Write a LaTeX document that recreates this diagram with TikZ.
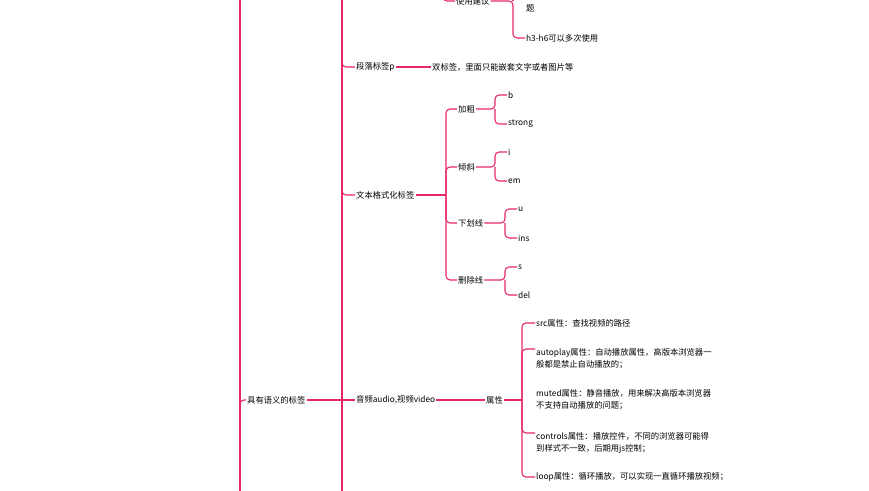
\documentclass[tikz,border=0pt]{standalone}
\usepackage{fontspec}
\newfontfamily\cjk{Noto Sans CJK SC}
\definecolor{mmred}{HTML}{E8276A}
\begin{document}
\begin{tikzpicture}[
        x=1pt, y=-1pt,
        lbl/.style = {anchor=west, inner sep=1pt, font=\cjk\fontsize{8.3}{12}\selectfont},
        note/.style = {lbl, align=left, text width=#1},
        link/.style = {draw=mmred, line width=1.1pt, rounded corners=4pt}
    ]
        \useasboundingbox (0,0) rectangle (869,490);
        \clip (0,0) rectangle (869,490);

        % trunk lines
        \draw[mmred, line width=2.6pt] (240,-10) -- (240,500);
        \draw[mmred, line width=1.4pt] (342,-10) -- (342,500);

        \node[lbl] (root) at (246,400) {具有语义的标签};
        \draw[link] (240,410) |- (root.west);
        \draw[link] (root.east) -- (342,400);

        % heading part (cut at the top)
        \node[lbl] (advice) at (455,1) {使用建议};
        \draw[link] (443,-20) |- (advice.west);
        \node[note=250pt] (once) at (525,2) {h1标签一个页面只能使用一次，用来解决SEO问\\题};
        \node[lbl] (multi) at (525,38) {h3-h6可以多次使用};
        \draw[link] (advice.east) -- (513,1) |- (multi.west);
        \draw[link] (513,1) -- (513,-10);

        % paragraph
        \node[lbl] (para) at (355,67) {段落标签p};
        \draw[link] (342,58) |- (para.west);
        \node[lbl] (paranote) at (431,67) {双标签，里面只能嵌套文字或者图片等};
        \draw[link] (para.east) -- (paranote.west);

        % text format
        \node[lbl] (fmt) at (355,195) {文本格式化标签};
        \draw[link] (342,186) |- (fmt.west);
        \node[lbl] (bold) at (457,109) {加粗};
        \node[lbl] (ital) at (457,167) {倾斜};
        \node[lbl] (under) at (457,223) {下划线};
        \node[lbl] (strike) at (457,280) {删除线};
        \draw[link] (fmt.east) -- (446,195);
        \foreach \n in {bold,ital,under,strike}
            \draw[link] (446,195) |- (\n.west);

        \node[lbl] (b) at (507,95) {b};
        \node[lbl] (strong) at (507,124) {strong};
        \node[lbl] (i) at (507,152) {i};
        \node[lbl] (em) at (507,181) {em};
        \node[lbl] (u) at (517,209) {u};
        \node[lbl] (ins) at (517,238) {ins};
        \node[lbl] (s) at (517,267) {s};
        \node[lbl] (del) at (517,295) {del};
        \draw[link] (bold.east) -- (495,109) |- (b.west);
        \draw[link] (495,109) |- (strong.west);
        \draw[link] (ital.east) -- (495,167) |- (i.west);
        \draw[link] (495,167) |- (em.west);
        \draw[link] (under.east) -- (505,223) |- (u.west);
        \draw[link] (505,223) |- (ins.west);
        \draw[link] (strike.east) -- (505,280) |- (s.west);
        \draw[link] (505,280) |- (del.west);

        % audio / video
        \node[lbl] (media) at (355,400) {音频audio,视频video};
        \draw[link] (media.west) -- (342,400);
        \node[lbl] (attr) at (485,400) {属性};
        \draw[link] (media.east) -- (attr.west);
        \node[note=240pt] (src) at (535,323) {src属性：查找视频的路径};
        \node[note=240pt] (auto) at (535,359) {autoplay属性：自动播放属性，高版本浏览器一\\般都是禁止自动播放的；};
        \node[note=240pt] (muted) at (535,400) {muted属性：静音播放，用来解决高版本浏览器\\不支持自动播放的问题；};
        \node[note=240pt] (ctrl) at (535,443) {controls属性：播放控件，不同的浏览器可能得\\到样式不一致，后期用js控制；};
        \node[note=240pt] (loop) at (535,477) {loop属性：循环播放，可以实现一直循环播放视频；};
        \draw[link] (attr.east) -- (522,400);
        \draw[link] (522,400) |- (src.west);
        \draw[link] (522,400) |- (loop.west);
        \draw[link] (522,400) |- (535,349);
        \draw[link] (522,400) |- (535,433);
    \end{tikzpicture}
\end{document}
